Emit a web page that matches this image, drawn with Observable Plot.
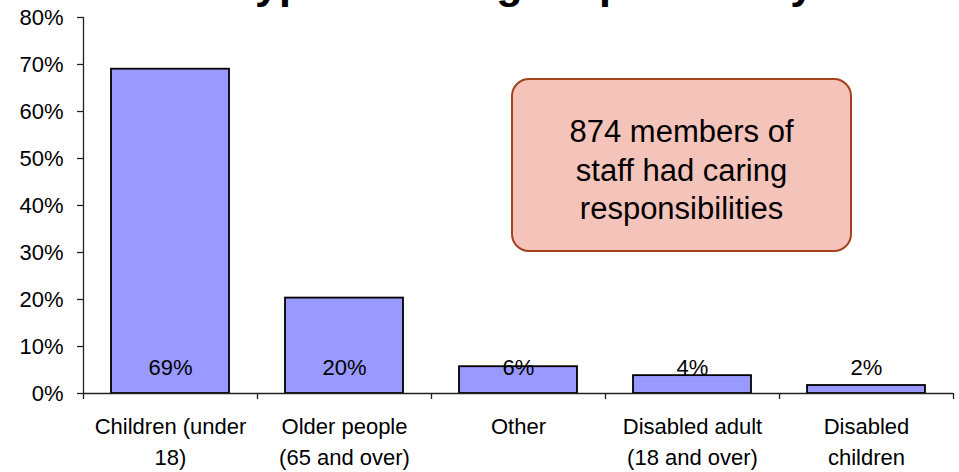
<!DOCTYPE html>
<html>
<head>
<meta charset="utf-8">
<script src="https://cdn.jsdelivr.net/npm/d3@7"></script>
<script src="https://cdn.jsdelivr.net/npm/@observablehq/plot@0.6"></script>
<style>
  html, body { margin: 0; padding: 0; background: #fff; overflow: hidden; }
  #wrap { position: relative; width: 959px; height: 472px; font-family: "Liberation Sans", Arial, sans-serif; }
  #title { position: absolute; left: 0; width: 1046px; text-align: center; top: -38px; font-size: 43px; line-height: 43px; font-weight: bold; color: #000; white-space: nowrap; }
  #note { position: absolute; left: 511px; top: 78px; width: 337px; height: 170px; border: 2px solid #A3421C; border-radius: 18px; background: #F4C3BA; box-sizing: content-box; }
  #note div { position: absolute; left: 0; right: 0; top: 33px; text-align: center; font-size: 31px; line-height: 38.5px; color: #000; }
  svg { position: absolute; left: 0; top: 0; }
</style>
</head>
<body>
<div id="wrap">
  <div id="chart"></div>
  <div id="title">Type of caring responsibility</div>
  <div id="note"><div>874 members of<br>staff had caring<br>responsibilities</div></div>
</div>
<script>
const categories = ["Children (under 18)", "Older people (65 and over)", "Other", "Disabled adult (18 and over)", "Disabled children"];
const categoryLabels = ["Children (under\n18)", "Older people\n(65 and over)", "Other", "Disabled adult\n(18 and over)", "Disabled\nchildren"];
const percentValues = [69, 20.3, 5.7, 3.8, 1.7];
const yTicks = [0, 10, 20, 30, 40, 50, 60, 70, 80];

const data = categories.map((c, i) => ({category: c, value: percentValues[i], label: Math.round(percentValues[i]) + "%"}));
const labelOf = new Map(categories.map((c, i) => [c, categoryLabels[i]]));

const W = 959, H = 472, mT = 17, mB = 79, mL = 83, mR = 6;
const frameH = H - mT - mB;
const axisColor = "#222";

const chart = Plot.plot({
  width: W,
  height: H,
  marginTop: mT,
  marginBottom: mB,
  marginLeft: mL,
  marginRight: mR,
  style: {fontFamily: "'Liberation Sans', Arial, sans-serif", background: "transparent", color: "#000"},
  x: {domain: categories, paddingInner: 0.322, paddingOuter: 0.161, align: 0.5},
  y: {domain: [0, 80]},
  marks: [
    Plot.barY(data, {x: "category", y: "value", fill: "#9999FF", stroke: "#000", strokeWidth: 1.8}),
    Plot.text(data, {x: "category", text: "label", frameAnchor: "bottom", lineAnchor: "middle", dy: -26, fontSize: 22, fill: "#000"}),
    Plot.frame({anchor: "left", stroke: axisColor, strokeWidth: 1.3}),
    Plot.ruleY([0], {stroke: axisColor, strokeWidth: 1.5}),
    Plot.ruleX(categories, {x: d => d, dx: -87, insetTop: frameH, insetBottom: -6, stroke: axisColor, strokeWidth: 1.3}),
    Plot.ruleX(categories.slice(-1), {x: d => d, dx: 87, insetTop: frameH, insetBottom: -6, stroke: axisColor, strokeWidth: 1.3}),
    Plot.axisY({ticks: yTicks, tickFormat: d => d + "%", tickSize: 6, tickPadding: 14, fontSize: 22, stroke: axisColor, strokeWidth: 1.3, label: null}),
    Plot.axisX({tickFormat: d => labelOf.get(d), tickSize: 0, tickPadding: 19, fontSize: 22, lineHeight: 1.4, label: null})
  ]
});
document.getElementById("chart").appendChild(chart);
</script>
</body>
</html>
